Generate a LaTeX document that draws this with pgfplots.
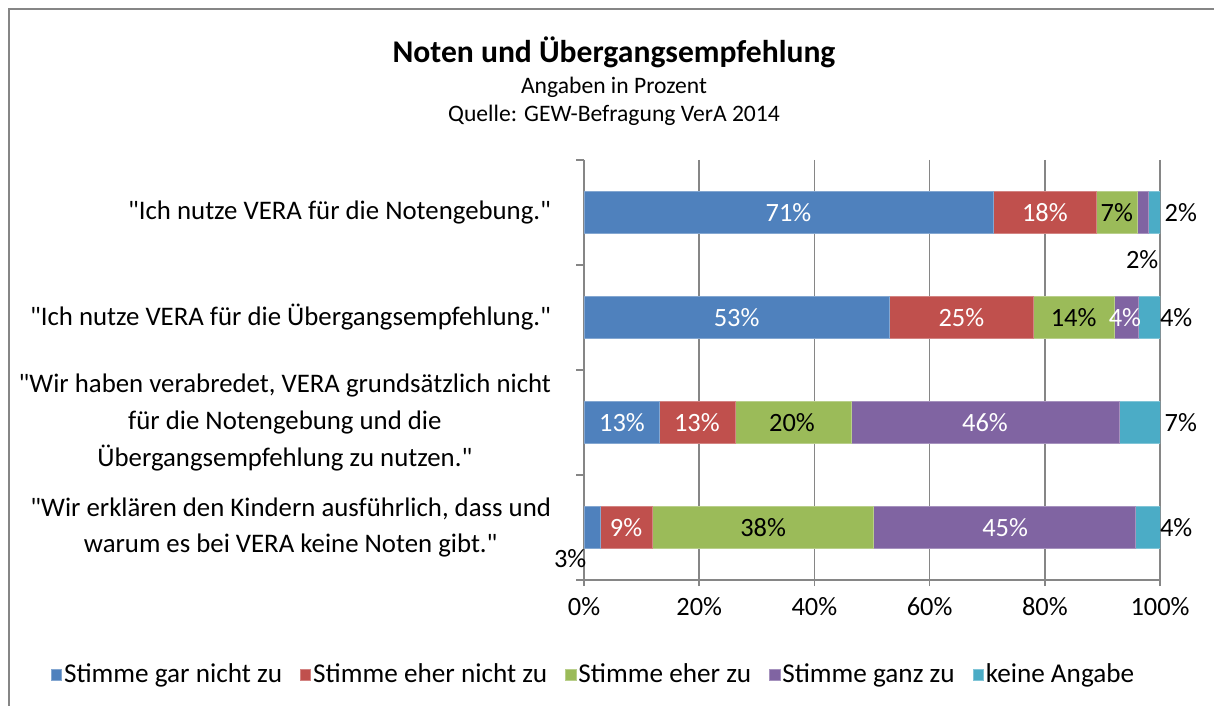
\documentclass[border=0pt]{standalone}
\usepackage{pgfplots}
\pgfplotsset{compat=1.18}
\usepackage{fontspec}
\setmainfont{Carlito}[Ligatures=TeXOff]
\definecolor{cBlue}{HTML}{4F81BD}
\definecolor{cRed}{HTML}{C0504D}
\definecolor{cGreen}{HTML}{9BBB59}
\definecolor{cPurple}{HTML}{8064A2}
\definecolor{cCyan}{HTML}{4BACC6}
\definecolor{axgray}{HTML}{868686}
\begin{document}
\begin{tikzpicture}[x=0.5bp,y=0.5bp]
\path[use as bounding box] (0,0) rectangle (1214,705);
\draw[axgray, line width=1.2bp] (9,-20) -- (9,696) -- (1240,696);
\node[font=\fontsize{15.8bp}{18bp}\selectfont\bfseries] at (614,653) {Noten und Übergangsempfehlung};
\node[font=\fontsize{11.8bp}{14bp}\selectfont] at (614,618) {Angaben in Prozent};
\node[font=\fontsize{11.8bp}{14bp}\selectfont] at (614,590) {Quelle: GEW-Befragung VerA 2014};
\pgfplotsset{
  common/.style={
    scale only axis, width=288bp, height=210bp,
    at={(292bp,62.5bp)}, anchor=south west,
    xmin=0, xmax=100, ymin=-0.5, ymax=3.5, y dir=reverse,
  },
  legsq/.style={legend image code/.code={\fill[##1] (0bp,-2.6bp) rectangle (5.2bp,2.6bp);}},
}
\begin{axis}[common,
  xbar stacked, bar width=21bp,
  axis x line*=bottom, axis y line*=left,
  axis line style={axgray, line width=0.8bp},
  tick style={axgray, line width=0.8bp},
  tick align=outside,
  major tick length=3bp, minor tick length=4bp,
  xtick={0,20,40,60,80,100},
  xticklabels={0\%,20\%,40\%,60\%,80\%,100\%},
  xticklabel style={font=\fontsize{13.2bp}{15bp}\selectfont, yshift=-2bp},
  xmajorgrids, grid style={axgray, line width=0.8bp},
  ytick={0,1,2,3},
  minor ytick={-0.5,0.5,1.5,2.5,3.5},
  major y tick style={draw=none},
  yticklabels={{"Ich nutze VERA für die Notengebung."},
               {"Ich nutze VERA für die Übergangsempfehlung."},
               {"Wir haben verabredet, VERA grundsätzlich nicht\\für die Notengebung und die\\Übergangsempfehlung zu nutzen."},
               {"Wir erklären den Kindern ausführlich, dass und\\warum es bei VERA keine Noten gibt."}},
  yticklabel style={align=center, font=\fontsize{13.4bp}{18.3bp}\selectfont, xshift=-10bp},
  legend columns=5,
  legend style={at={(0.0165,-0.226)}, anchor=center, draw=none, fill=none,
    font=\fontsize{13.6bp}{15bp}\selectfont,
    nodes={inner sep=1bp},
    /tikz/every even column/.append style={column sep=8bp},
    /tikz/every odd column/.append style={column sep=0bp}},
  legend cell align=left,
]
\addplot[fill=cBlue, draw=cBlue!70!white, line width=0.4bp, legsq] coordinates {(71,0) (53,1) (13,2) (2.9,3)};
\addplot[fill=cRed, draw=cRed!70!white, line width=0.4bp, legsq] coordinates {(18,0) (25,1) (13.2,2) (8.9,3)};
\addplot[fill=cGreen, draw=cGreen!70!white, line width=0.4bp, legsq] coordinates {(7,0) (14,1) (20.2,2) (38.5,3)};
\addplot[fill=cPurple, draw=cPurple!70!white, line width=0.4bp, legsq] coordinates {(2,0) (4.2,1) (46.5,2) (45.5,3)};
\addplot[fill=cCyan, draw=cCyan!70!white, line width=0.4bp, legsq] coordinates {(2,0) (3.8,1) (7.1,2) (4.2,3)};
\legend{Stimme gar nicht zu, Stimme eher nicht zu, Stimme eher zu, Stimme ganz zu, keine Angabe}
\end{axis}
\begin{axis}[common, hide axis, clip=false,
  nodes near coords={\pgfplotspointmeta\%},
  point meta=explicit symbolic,
  nodes near coords align={center},
  every node near coord/.append style={anchor=center, font=\fontsize{13.2bp}{15bp}\selectfont, inner sep=0pt},
]
\addplot[draw=none, every node near coord/.append style={text=white}] table[meta=l] {
x y l
35.5 0 71
80 0 18
26.5 1 53
65.5 1 25
93.9 1 4
6.6 2 13
19.6 2 13
69.6 2 46
7.3 3 9
73.1 3 45
};
\addplot[draw=none, every node near coord/.append style={text=black}] table[meta=l] {
x y l
92.5 0 7
96.9 0.45 2
103.6 0 2
85 1 14
102.8 1 4
36.1 2 20
103.6 2 7
-2.4 3.3 3
31.1 3 38
102.8 3 4
};
\end{axis}
\end{tikzpicture}
\end{document}
